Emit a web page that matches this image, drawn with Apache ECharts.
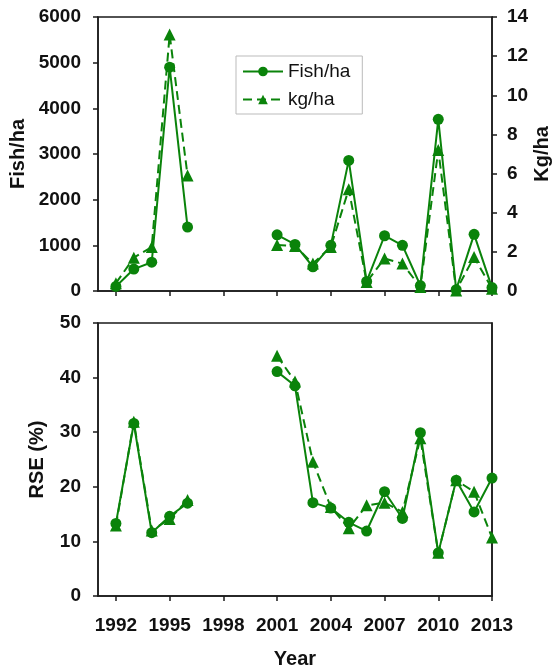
<!DOCTYPE html>
<html>
<head>
<meta charset="utf-8">
<script src="https://cdn.jsdelivr.net/npm/echarts@6/dist/echarts.min.js"></script>
<style>html,body{margin:0;padding:0;background:#fff;}#c{width:553px;height:670px;}</style>
</head>
<body>
<div id="c"></div>
<script>
var years = [1992,1993,1994,1995,1996,1997,1998,1999,2000,2001,2002,2003,2004,2005,2006,2007,2008,2009,2010,2011,2012,2013];
var yearTicks = [1992,1995,1998,2001,2004,2007,2010,2013];
var fishHa = [100,480,630,4900,1400,null,null,null,null,1230,1020,530,1000,2860,210,1210,1000,120,3760,30,1240,75];
var kgHa = [0.4,1.7,2.25,13.1,5.9,null,null,null,null,2.35,2.3,1.4,2.25,5.2,0.46,1.66,1.4,0.2,7.2,0.03,1.74,0.12];
var rseFish = [13.3,31.6,11.6,14.6,17.0,null,null,null,null,41.1,38.5,17.1,16.1,13.5,11.9,19.1,14.2,29.9,7.9,21.2,15.4,21.6];
var rseKg = [12.9,31.9,12.0,14.1,17.6,null,null,null,null,44.0,39.3,24.6,16.3,12.4,16.6,17.1,15.4,28.9,7.9,21.2,19.1,10.7];

function pairs(vals){ return years.map(function(y,i){ return [y, vals[i] == null ? '-' : vals[i]]; }); }
function plain(v){ return String(v); }

var green = '#0a830a';
var axisCol = '#1a1a1a';
var font = 'Liberation Sans, Arial, sans-serif';
var nameStyle = {color:'#111', fontFamily:font, fontWeight:'bold', fontSize:20};

function xAx(idx, showLabels){
  return {
    type:'value', gridIndex:idx, min:1991, max:2013,
    axisLine:{show:true, onZero:false, lineStyle:{color:axisCol, width:1.5}},
    axisTick:{show:true, length:5, customValues:yearTicks, lineStyle:{color:axisCol, width:1.5}},
    axisLabel:{show:showLabels, customValues:yearTicks, formatter:plain, margin:20, color:'#111', fontFamily:font, fontWeight:'bold', fontSize:19},
    splitLine:{show:false},
    name: showLabels ? 'Year' : '', nameLocation:'middle', nameGap:53, nameMoveOverlap:false, nameTextStyle:nameStyle
  };
}
function yAx(idx, pos, min, max, interval, name, gap, ticks, margin){
  return {
    type:'value', gridIndex:idx, position:pos, min:min, max:max, interval:interval,
    axisLine:{show:true, onZero:false, lineStyle:{color:axisCol, width:1.5}},
    axisTick:{show:ticks, length:5, lineStyle:{color:axisCol, width:1.5}},
    axisLabel:{show:ticks, margin:margin, formatter:plain, color:'#111', fontFamily:font, fontWeight:'bold', fontSize:19},
    splitLine:{show:false},
    name:name, nameLocation:'middle', nameRotate:90, nameGap:gap, nameMoveOverlap:false, nameTextStyle:nameStyle
  };
}

var chart = echarts.init(document.getElementById('c'), null, {renderer:'canvas'});
chart.setOption({
  animation:false,
  backgroundColor:'#fff',
  grid:[
    {left:98, right:61, top:17, height:274, containLabel:false, outerBoundsMode:'none', show:true, borderColor:axisCol, borderWidth:1.5, backgroundColor:'transparent'},
    {left:98, right:61, top:323, height:273, containLabel:false, outerBoundsMode:'none', show:true, borderColor:axisCol, borderWidth:1.5, backgroundColor:'transparent'}
  ],
  legend:{
    data:['Fish/ha','kg/ha'], orient:'vertical', left:236, top:56,
    itemWidth:40, itemHeight:12, itemGap:9, padding:[6,12,5,6],
    borderColor:'#bbbbbb', borderWidth:1, backgroundColor:'#fff',
    textStyle:{color:'#111', fontFamily:font, fontSize:19},
    selectedMode:false
  },
  xAxis:[xAx(0,false), xAx(1,true)],
  yAxis:[
    yAx(0,'left',0,6000,1000,'Fish/ha',70,true,17),
    yAx(0,'right',0,14,2,'Kg/ha',40,true,15),
    yAx(1,'left',0,50,10,'RSE (%)',51,true,17),
    yAx(1,'right',0,50,10,'',10,false,15)
  ],
  series:[
    {name:'Fish/ha', type:'line', xAxisIndex:0, yAxisIndex:0, data:pairs(fishHa), connectNulls:false,
     symbol:'circle', symbolSize:11, itemStyle:{color:green}, lineStyle:{color:green, width:2}, z:3},
    {name:'kg/ha', type:'line', xAxisIndex:0, yAxisIndex:1, data:pairs(kgHa), connectNulls:false,
     symbol:'triangle', symbolSize:12, itemStyle:{color:green}, lineStyle:{color:green, width:2, type:[9,5]}, z:2},
    {name:'RSE Fish/ha', type:'line', xAxisIndex:1, yAxisIndex:2, data:pairs(rseFish), connectNulls:false,
     symbol:'circle', symbolSize:11, itemStyle:{color:green}, lineStyle:{color:green, width:2}, z:3},
    {name:'RSE kg/ha', type:'line', xAxisIndex:1, yAxisIndex:2, data:pairs(rseKg), connectNulls:false,
     symbol:'triangle', symbolSize:12, itemStyle:{color:green}, lineStyle:{color:green, width:2, type:[9,5]}, z:2}
  ]
});
</script>
</body>
</html>
